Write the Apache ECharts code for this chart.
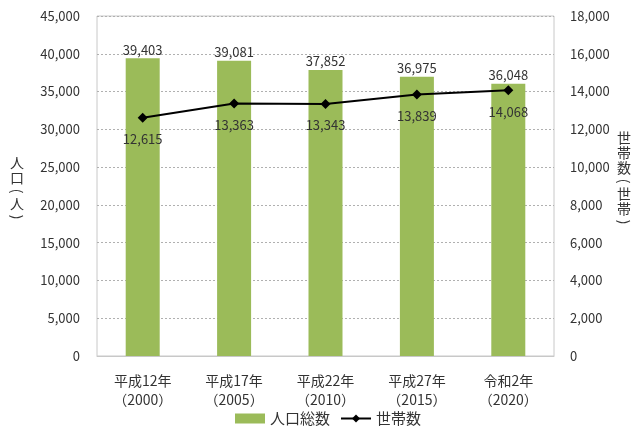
<!DOCTYPE html>
<html>
<head>
<meta charset="utf-8">
<script src="https://cdn.jsdelivr.net/npm/echarts@6/dist/echarts.min.js"></script>
<style>
html,body{margin:0;padding:0;background:#fff;}
#c{width:636px;height:432px;}
</style>
</head>
<body>
<div id="c"></div>
<script>
// 年次区分
const categories = ['平成12年\n（2000）', '平成17年\n（2005）', '平成22年\n（2010）', '平成27年\n（2015）', '令和2年\n（2020）'];
// 人口総数（人）
const population = [39403, 39081, 37852, 36975, 36048];
// 世帯数（世帯）
const households = [12615, 13363, 13343, 13839, 14068];
// 縦書きの軸タイトル
const leftTitle = '人口（人）';
const rightTitle = '世帯数（世帯）';

const FONT = '"Noto Sans CJK JP", "Noto Sans", sans-serif';
const TXT = '#333';

// 縦書きタイトル：1文字ずつ積み、括弧は90°回転させる
function verticalTitle(str, cx, cy) {
  const CH = 15, PH = 11;
  const chars = str.split('');
  const isParen = c => c === '（' || c === '）';
  const total = chars.reduce((s, c) => s + (isParen(c) ? PH : CH), 0);
  let y = cy - total / 2;
  const children = [];
  chars.forEach(c => {
    const h = isParen(c) ? PH : CH;
    const mid = y + h / 2;
    children.push({
      type: 'text', x: cx, y: mid,
      rotation: isParen(c) ? -Math.PI / 2 : 0,
      style: {
        text: isParen(c) ? (c === '（' ? '(' : ')') : c,
        fill: TXT, font: '14px ' + FONT,
        textAlign: 'center', textVerticalAlign: 'middle'
      }
    });
    y += h;
  });
  return { type: 'group', children };
}

const chart = echarts.init(document.getElementById('c'));
chart.setOption({
  animation: false,
  textStyle: { fontFamily: FONT },
  grid: { left: 97, right: 82, top: 16, bottom: 76, show: true, borderColor: '#c8c8c8', borderWidth: 1 },
  legend: {
    bottom: 1, left: 230, itemGap: 10,
    textStyle: { fontFamily: FONT, fontSize: 15, color: TXT },
    data: [
      { name: '人口総数', icon: 'rect', itemStyle: { color: '#9bbb59' } },
      { name: '世帯数' }
    ],
    itemWidth: 30, itemHeight: 10
  },
  graphic: [
    verticalTitle(leftTitle, 17, 189),
    verticalTitle(rightTitle, 624, 179)
  ],
  xAxis: {
    type: 'category', data: categories,
    axisLine: { lineStyle: { color: '#c8c8c8' } },
    axisTick: { show: false },
    axisLabel: { fontFamily: FONT, fontSize: 14, color: TXT, lineHeight: 19, margin: 15 }
  },
  yAxis: [
    {
      type: 'value', min: 0, max: 45000, interval: 5000,
      axisLine: { show: false }, axisTick: { show: false },
      axisLabel: { fontFamily: FONT, fontSize: 13, color: TXT, margin: 17,
        formatter: v => v.toLocaleString('en-US') },
      splitLine: { lineStyle: { color: '#b0b0b0', type: [2, 2] } }
    },
    {
      type: 'value', min: 0, max: 18000, interval: 2000,
      axisLine: { show: false }, axisTick: { show: false },
      axisLabel: { fontFamily: FONT, fontSize: 13, color: TXT, margin: 16,
        formatter: v => v.toLocaleString('en-US') },
      splitLine: { show: false }
    }
  ],
  series: [
    {
      name: '人口総数', type: 'bar', data: population, yAxisIndex: 0,
      barWidth: 34,
      itemStyle: { color: '#9bbb59' },
      label: { show: true, position: 'top', distance: 2, fontFamily: FONT, fontSize: 13, color: TXT,
        formatter: p => p.value.toLocaleString('en-US') }
    },
    {
      name: '世帯数', type: 'line', data: households, yAxisIndex: 1,
      symbol: 'diamond', symbolSize: 10,
      lineStyle: { color: '#000', width: 2 },
      itemStyle: { color: '#000' },
      label: { show: true, position: 'bottom', distance: 10, fontFamily: FONT, fontSize: 13, color: TXT,
        formatter: p => p.value.toLocaleString('en-US') }
    }
  ]
});
</script>
</body>
</html>
